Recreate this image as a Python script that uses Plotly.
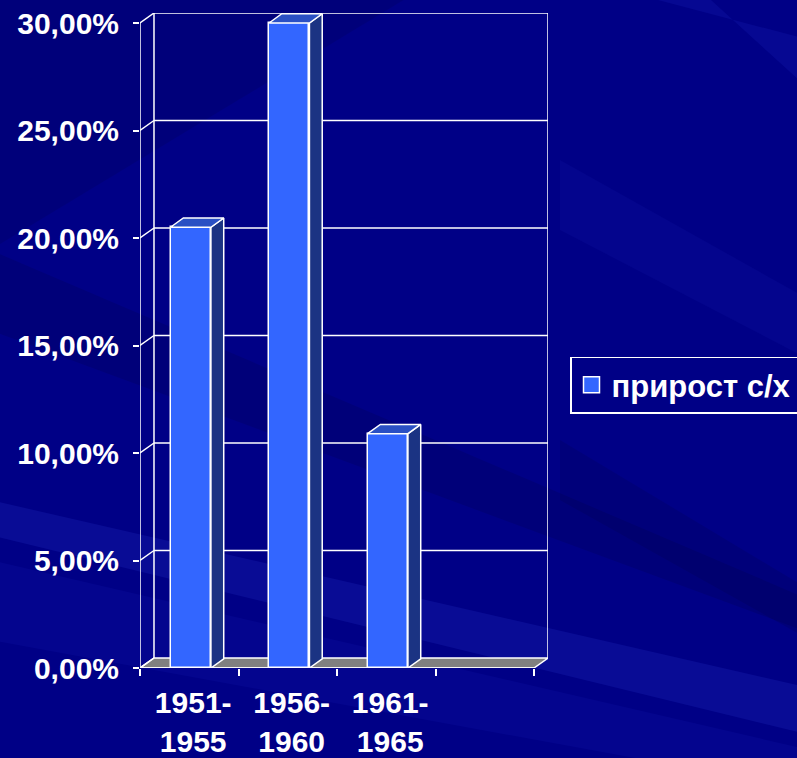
import plotly.graph_objects as go

# ---- data ----
categories = ["1951-<br>1955", "1956-<br>1960", "1961-<br>1965"]
values = [0.205, 0.300, 0.109]
series_name = "прирост с/х"
y_ticks = [0.0, 0.05, 0.10, 0.15, 0.20, 0.25, 0.30]
n_slots = 4

# ---- style / geometry ----
W, H = 797, 758
ML, MR, MT, MB = 140, 249, 13, 90
DX, DY = 0.142, 0.00465          # depth of the walls (x in slots, y in fraction)
BDX, BDY = 0.13, 0.0043          # depth of the bars
B_OFF, B_W = 0.31, 0.41          # bar front-face offset and width inside a slot
FRONT = "#3366FF"
SIDE = "#1B3383"
TOP = "#2A50C4"
LINE = "white"
FONT = "Liberation Sans, Arial, sans-serif"
YMAX = y_ticks[-1]

fig = go.Figure()

# front faces (bars)
fig.add_trace(go.Bar(
    x=[i + B_OFF + B_W / 2 for i in range(len(values))],
    y=values, width=B_W, name=series_name,
    marker=dict(color=FRONT, line=dict(color=LINE, width=1.5)),
    showlegend=False, hoverinfo="skip",
))

# side and top faces
for i, v in enumerate(values):
    x0 = i + B_OFF
    x1 = x0 + B_W
    fig.add_trace(go.Scatter(
        x=[x1, x1, x1 + BDX, x1 + BDX, x1],
        y=[0, v, v + BDY, BDY, 0],
        fill="toself", fillcolor=SIDE, mode="lines",
        line=dict(color=LINE, width=1.5), showlegend=False, hoverinfo="skip"))
    fig.add_trace(go.Scatter(
        x=[x0, x1, x1 + BDX, x0 + BDX, x0],
        y=[v, v, v + BDY, v + BDY, v],
        fill="toself", fillcolor=TOP, mode="lines",
        line=dict(color=LINE, width=1.5), showlegend=False, hoverinfo="skip"))

# legend entry for the series (square key like the original)
fig.add_trace(go.Scatter(
    x=[None], y=[None], mode="markers", name=series_name,
    marker=dict(symbol="square", size=16, color=FRONT,
                line=dict(color=LINE, width=1.5)),
    showlegend=True, hoverinfo="skip"))

shapes = []

# background streaks in pixel space -> paper coords
def px(xp, yp):
    return (xp - ML) / (W - ML - MR), (H - MB - yp) / (H - MT - MB)

def poly(points, color):
    pts = [px(a, b) for a, b in points]
    path = "M " + " L ".join(f"{a:.4f},{b:.4f}" for a, b in pts) + " Z"
    return dict(type="path", xref="paper", yref="paper", path=path,
                fillcolor=color, line=dict(width=0), layer="below")

shapes += [
    poly([(-10, -10), (420, -10), (-10, 250)], "rgba(0,0,40,0.12)"),
    poly([(-10, 250), (-10, 330), (810, 633), (810, 600)], "rgba(0,0,50,0.15)"),
    poly([(-10, 500), (-10, 535), (810, 735), (810, 688)], "rgba(70,90,255,0.13)"),
    poly([(-10, 560), (-10, 640), (810, 790), (810, 750)], "rgba(50,70,255,0.07)"),
    poly([(620, -10), (700, -10), (810, 90), (810, 40)], "rgba(60,80,255,0.10)"),
    poly([(560, 160), (560, 230), (810, 360), (810, 300)], "rgba(60,80,255,0.06)"),
    poly([(560, 440), (560, 500), (810, 640), (810, 590)], "rgba(0,0,40,0.12)"),
]

def seg(x0, y0, x1, y1, w=1.5):
    return dict(type="line", xref="x", yref="y", x0=x0, y0=y0, x1=x1, y1=y1,
                line=dict(color=LINE, width=w), layer="below")

# floor
shapes.append(dict(
    type="path", xref="x", yref="y", layer="below",
    path=f"M 0,0 L {n_slots},0 L {n_slots + DX},{DY} L {DX},{DY} Z",
    fillcolor="#808080", line=dict(color=LINE, width=1.5)))

# back wall gridlines and left-wall diagonals
for t in y_ticks:
    if t > 0:
        shapes.append(seg(DX, t + DY, n_slots + DX, t + DY))
    shapes.append(seg(0, t, DX, t + DY))
shapes.append(seg(DX, DY, DX, YMAX + DY))
shapes.append(seg(n_slots + DX, DY, n_slots + DX, YMAX + DY))
shapes.append(seg(0, 0, 0, YMAX))
shapes.append(seg(0, 0, n_slots, 0))

fig.update_layout(
    width=W, height=H,
    margin=dict(l=ML, r=MR, t=MT, b=MB, autoexpand=False),
    paper_bgcolor="#000086", plot_bgcolor="rgba(0,0,0,0)",
    separators=", ",
    font=dict(family=FONT, color="white", size=30),
    shapes=shapes,
    bargap=0,
    xaxis=dict(
        range=[0, n_slots + DX], showgrid=False, zeroline=False, showline=False,
        tickvals=[i + 0.54 for i in range(len(categories))], ticktext=categories,
        ticks="", ticklabelstandoff=14,
        tickfont=dict(family=FONT, size=30, color="white", weight="bold"),
        minor=dict(tickvals=list(range(n_slots + 1)), ticks="outside",
                   ticklen=7, tickwidth=1.5, tickcolor=LINE),
    ),
    yaxis=dict(
        range=[0, YMAX + DY], showgrid=False, zeroline=False, showline=False,
        tickvals=y_ticks, tickformat=".2%", ticks="outside", ticklen=6,
        tickwidth=1.5, tickcolor=LINE, ticklabelstandoff=8,
        tickfont=dict(family=FONT, size=30, color="white", weight="bold"),
    ),
    legend=dict(
        x=(570 - ML) / (W - ML - MR), xanchor="left",
        y=(H - MB - 385) / (H - MT - MB), yanchor="middle",
        bordercolor=LINE, borderwidth=1.5, bgcolor="rgba(0,0,0,0)",
        font=dict(family=FONT, size=31, color="white", weight="bold"),
    ),
)

fig.write_html(
    "out.html",
    config={"displayModeBar": False},
    post_script="document.body.style.margin='0';document.body.style.overflow='hidden';",
)
